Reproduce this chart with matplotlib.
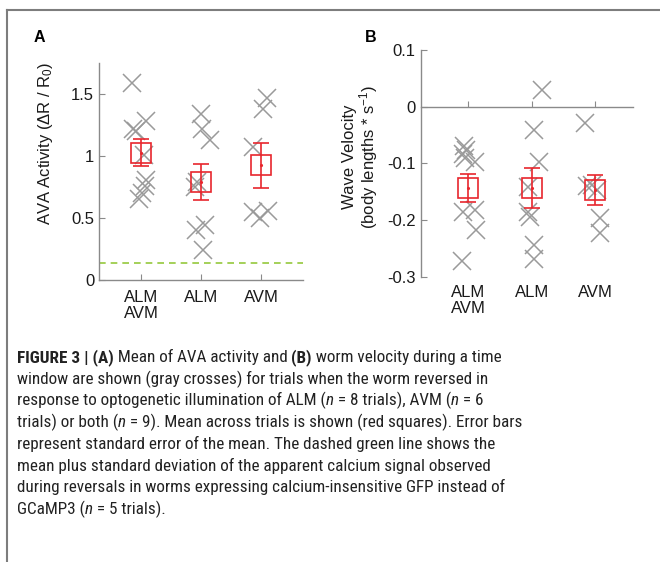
import re
import numpy as np
import matplotlib
matplotlib.use('Agg')
import matplotlib.pyplot as plt
from matplotlib import font_manager
from matplotlib.lines import Line2D

W, H = 660, 562

groups = ['ALM\nAVM', 'ALM', 'AVM']

# (A) AVA activity (dR/R0), one value per trial, with horizontal jitter
ava_both = [1.59, 1.22, 1.20, 1.28, 1.01, 0.81, 0.76, 0.70, 0.65]
ava_both_jit = [-0.155, -0.14, -0.08, 0.08, 0.05, 0.09, 0.07, 0.01, -0.04]
ava_alm = [1.34, 1.22, 1.13, 0.79, 0.75, 0.44, 0.40, 0.24]
ava_alm_jit = [0.0, 0.01, 0.15, -0.06, -0.10, 0.07, -0.08, 0.03]
ava_avm = [1.47, 1.38, 1.075, 0.56, 0.55, 0.50]
ava_avm_jit = [0.10, 0.03, -0.14, 0.12, -0.14, -0.02]
ava_mean = [1.027, 0.79, 0.925]
ava_sem = [0.107, 0.143, 0.18]
gfp_level = 0.14

# (B) wave velocity (body lengths / s)
vel_both = [-0.070, -0.076, -0.083, -0.091, -0.097, -0.185, -0.182, -0.218, -0.272]
vel_both_jit = [-0.06, -0.03, -0.09, -0.05, 0.10, -0.08, 0.10, 0.13, -0.10]
vel_alm = [0.029, -0.041, -0.097, -0.141, -0.185, -0.194, -0.244, -0.268]
vel_alm_jit = [0.16, 0.03, 0.12, -0.05, -0.05, -0.03, 0.03, 0.03]
vel_avm = [-0.029, -0.140, -0.138, -0.147, -0.197, -0.223]
vel_avm_jit = [-0.15, -0.13, -0.05, 0.03, 0.08, 0.08]
vel_mean = [-0.144, -0.143, -0.147]
vel_sem = [0.025, 0.035, 0.027]

caption = [
    "**FIGURE 3 | (A)** Mean of AVA activity and **(B)** worm velocity during a time",
    "window are shown (gray crosses) for trials when the worm reversed in",
    "response to optogenetic illumination of ALM (_n_ = 8 trials), AVM (_n_ = 6",
    "trials) or both (_n_ = 9). Mean across trials is shown (red squares). Error bars",
    "represent standard error of the mean. The dashed green line shows the",
    "mean plus standard deviation of the apparent calcium signal observed",
    "during reversals in worms expressing calcium-insensitive GFP instead of",
    "GCaMP3 (_n_ = 5 trials).",
]


def has_font(name):
    try:
        font_manager.findfont(font_manager.FontProperties(family=name),
                              fallback_to_default=False)
        return True
    except ValueError:
        return False


plt.rcParams['font.family'] = ['Liberation Sans', 'DejaVu Sans']
plt.rcParams['mathtext.default'] = 'regular'
plt.rcParams['axes.unicode_minus'] = False

GRAY = '#9a9a9a'
AXC = '#8a8a8a'
RED = '#e8262d'
GREEN = '#95c83c'


def style_axes(ax):
    for s in ['top', 'right']:
        ax.spines[s].set_visible(False)
    for s in ['left', 'bottom']:
        ax.spines[s].set_color(AXC)
        ax.spines[s].set_linewidth(1.0)
    ax.tick_params(direction='in', length=4, color=AXC, labelsize=12,
                   labelcolor='#1a1a1a', width=0.8)
    ax.set_facecolor('none')


def draw_groups(ax, data, jits, means, sems):
    for i, (vals, jit) in enumerate(zip(data, jits)):
        x = np.full(len(vals), i + 1.0) + np.array(jit)
        ax.plot(x, vals, 'x', color=GRAY, ms=12.5, mew=1.1, zorder=2)
    pos = np.arange(1, len(means) + 1)
    ax.errorbar(pos, means, yerr=sems, fmt='none', ecolor=RED,
                elinewidth=1.2, capsize=5.6, capthick=1.2, zorder=3)
    ax.plot(pos, means, 's', mfc='none', mec=RED, ms=15, mew=1.2, zorder=3)
    ax.plot(pos, means, '.', color=RED, ms=2.5, zorder=4)


fig = plt.figure(figsize=(W / 100, H / 100), dpi=100)

# ---- panel A
axA = fig.add_axes([99 / W, 1 - 280 / H, 204 / W, 217 / H])
style_axes(axA)
draw_groups(axA, [ava_both, ava_alm, ava_avm],
            [ava_both_jit, ava_alm_jit, ava_avm_jit], ava_mean, ava_sem)
axA.axhline(gfp_level, color=GREEN, lw=1.2, ls=(0, (4, 3)), zorder=1)
axA.set_xlim(0.3, 3.7)
axA.set_ylim(0, 1.75)
axA.set_yticks([0, 0.5, 1, 1.5])
axA.set_yticklabels(['0', '0.5', '1', '1.5'])
axA.set_xticks([1, 2, 3])
axA.set_xticklabels(groups, linespacing=1.1)
axA.tick_params(axis='x', pad=7)
axA.set_ylabel('AVA Activity (\u0394R / R$_0$)', fontsize=12, color='#1a1a1a')
axA.yaxis.set_label_coords(-0.215, 0.63)

# ---- panel B
axB = fig.add_axes([420.7 / W, 1 - 276.7 / H, 212.3 / W, 226.7 / H])
style_axes(axB)
draw_groups(axB, [vel_both, vel_alm, vel_avm],
            [vel_both_jit, vel_alm_jit, vel_avm_jit], vel_mean, vel_sem)
axB.set_xlim(0.25, 3.6)
axB.set_ylim(-0.3, 0.1)
axB.set_yticks([-0.3, -0.2, -0.1, 0, 0.1])
axB.set_yticklabels(['-0.3', '-0.2', '-0.1', '0', '0.1'])
axB.spines['bottom'].set_position(('data', 0))
axB.set_xticks([1, 2, 3])
axB.tick_params(axis='x', labelbottom=False)
for i, g in enumerate(groups):
    axB.text(i + 1, -0.035, g, transform=axB.get_xaxis_transform(),
             ha='center', va='top', fontsize=12, color='#1a1a1a', linespacing=1.1)
axB.set_ylabel('Wave Velocity\n(body lengths * s$^{-1}$)', fontsize=12,
               color='#1a1a1a', linespacing=1.05)
axB.yaxis.set_label_coords(-0.19, 0.53)

# panel letters
fig.text(34 / W, 1 - 38 / H, 'A', fontsize=11.5, fontweight='bold', va='center')
fig.text(365 / W, 1 - 38 / H, 'B', fontsize=11.5, fontweight='bold', va='center')

# frame
fig.add_artist(Line2D([7 / W, 1], [1 - 9.5 / H] * 2, transform=fig.transFigure,
                      color='#7d7d7d', lw=1.5))
fig.add_artist(Line2D([7 / W] * 2, [1 - 9.5 / H, 0], transform=fig.transFigure,
                      color='#7d7d7d', lw=1.5))

# caption: condensed face if there is one, with bold / italic runs
cap_family = ['Liberation Sans']
for cand in ['Roboto Condensed', 'Archivo Narrow', 'PT Sans Narrow']:
    if has_font(cand):
        cap_family = [cand, 'Liberation Sans']
        break
renderer = fig.canvas.get_renderer()


def text_width(s, **kw):
    t = fig.text(0, 0, '|' + s + '|', **kw)
    w = t.get_window_extent(renderer).width
    t.remove()
    t = fig.text(0, 0, '||', **kw)
    w -= t.get_window_extent(renderer).width
    t.remove()
    return w


def split_runs(line, size):
    runs = []
    for seg in re.split(r'(\*\*.*?\*\*|_.*?_)', line):
        if not seg:
            continue
        kw = dict(fontsize=size, family=cap_family, color='#222222')
        if seg.startswith('**'):
            seg = seg[2:-2]
            kw['fontweight'] = 'bold'
        elif seg.startswith('_'):
            seg = seg[1:-1]
            kw['fontstyle'] = 'italic'
        runs.append((seg, kw))
    return runs


# fit the size so the first line spans about as wide as in the original
base = 11.0
w0 = sum(text_width(s, **kw) for s, kw in split_runs(caption[0], base))
cap_size = min(12.5, base * 483.0 / w0)

for k, line in enumerate(caption):
    x = 17.0
    y = 362 + k * 21.7
    for seg, kw in split_runs(line, cap_size):
        fig.text(x / W, 1 - y / H, seg, va='baseline', ha='left', **kw)
        x += text_width(seg, **kw)

fig.savefig('out.png', dpi=100)
